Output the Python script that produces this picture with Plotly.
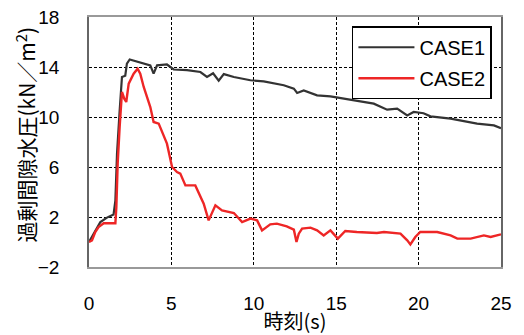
import plotly.graph_objects as go

# CASE1 (black)
t1 = [0, 0.28, 0.69, 1.09, 1.49, 1.60, 1.70, 1.86, 2.0, 2.2, 2.3, 2.47, 2.81, 3.32, 3.72, 3.92, 4.13,
      4.73, 5.14, 5.95, 6.76, 7.16, 7.53, 7.87, 8.18, 8.79, 9.79, 10.6, 11.82, 12.43, 12.63, 13.03,
      13.84, 14.65, 15.66, 17.28, 18.09, 18.7, 19.31, 19.7, 20.3, 20.72, 21.94, 23.55, 24.57, 25.0]
v1 = [0, 0.67, 1.6, 1.95, 2.2, 3.3, 7.07, 10.5, 13.2, 13.3, 14.27, 14.6, 14.47, 14.27, 14.13, 13.47, 14.13,
      14.2, 13.8, 13.75, 13.6, 13.2, 13.5, 12.9, 13.43, 13.2, 12.94, 12.85, 12.54, 12.27, 11.92, 12.13,
      11.73, 11.65, 11.41, 11.07, 10.59, 10.67, 10.13, 10.4, 10.3, 10.05, 9.87, 9.47, 9.33, 9.1]

# CASE2 (red)
t2 = [0, 0.18, 0.38, 0.58, 0.89, 1.6, 1.66, 1.74, 1.86, 2.0, 2.14, 2.26, 2.41, 2.71, 2.95, 3.11, 3.32,
      3.72, 3.92, 4.23, 4.73, 5.04, 5.34, 5.54, 5.85, 6.45, 6.96, 7.26, 7.67, 8.07, 8.79, 9.29, 9.8,
      10.2, 10.5, 11.0, 11.4, 12.0, 12.43, 12.59, 12.73, 12.93, 13.44, 13.84, 14.24, 14.65, 15.1,
      15.55, 16.25, 17.47, 17.9, 18.9, 19.31, 19.5, 19.8, 20.1, 21.13, 21.94, 22.35, 23.16, 23.96,
      24.37, 25.0]
v2 = [0, 0.13, 0.8, 1.2, 1.5, 1.5, 2.8, 6.27, 9.2, 12.0, 11.47, 11.2, 12.67, 13.47, 13.87, 13.47, 12.4,
      10.8, 9.6, 9.47, 7.87, 6.0, 5.6, 5.47, 4.53, 4.53, 3.07, 1.73, 2.93, 2.53, 2.32, 1.6, 1.87,
      1.73, 0.93, 1.41, 1.47, 1.25, 0.99, 0.0, 0.67, 1.07, 1.15, 0.93, 0.53, 0.93, 0.27,
      0.88, 0.8, 0.72, 0.8, 0.67, 0.13, -0.19, 0.4, 0.8, 0.8, 0.53, 0.27, 0.27, 0.53,
      0.4, 0.61]

x_ticks = [0, 5, 10, 15, 20, 25]
y_ticks = [-2, 2, 6, 10, 14, 18]
y_ticklabels = ["\u22122", "2", "6", "10", "14", "18"]

font_fam = "Liberation Sans, Arial, Noto Sans CJK JP, sans-serif"
cjk = "Noto Sans CJK JP, sans-serif"

fig = go.Figure()
fig.add_trace(go.Scatter(x=t1, y=v1, mode="lines", name="CASE1", legendgroup="a",
                         line=dict(color="#333333", width=2.2)))
fig.add_trace(go.Scatter(x=t2, y=v2, mode="lines", name="CASE2", legendgroup="b",
                         line=dict(color="#ee2626", width=2.4)))

fig.update_layout(
    width=524, height=335,
    margin=dict(l=89, r=23, t=17, b=68),
    paper_bgcolor="white", plot_bgcolor="white",
    font=dict(family=font_fam, size=18, color="black"),
    showlegend=True,
    legend=dict(x=0.978, y=0.963, xanchor="right", yanchor="top",
                bgcolor="white", bordercolor="black", borderwidth=1.5,
                font=dict(size=20, family=font_fam),
                traceorder="grouped", tracegroupgap=2,
                itemwidth=56),
    xaxis=dict(range=[0, 25], tickvals=x_ticks, ticks="", showgrid=True,
               gridcolor="black", griddash="3px,2px", gridwidth=1,
               showline=True, linecolor="#999999", linewidth=1.5, mirror=True,
               zeroline=False, tickfont=dict(size=19), ticklabelstandoff=18,
               automargin=False,
               title=dict(text="時刻(s)", font=dict(size=20, family=cjk), standoff=2)),
    yaxis=dict(range=[-2, 18], tickvals=y_ticks, ticktext=y_ticklabels, ticks="",
               showgrid=True, gridcolor="black", griddash="3px,2px", gridwidth=1,
               showline=True, linecolor="#666666", linewidth=1.5, mirror=True,
               zeroline=False, tickfont=dict(size=19), ticklabelstandoff=24,
               automargin=False),
    annotations=[dict(text="過剰間隙水圧(kN／m<sup>2</sup>)", textangle=-90,
                      xref="paper", yref="paper", x=-64 / 412, y=0.53,
                      xanchor="center", yanchor="middle", showarrow=False,
                      font=dict(size=21, family=cjk))],
)

fig.write_html("out.html")
